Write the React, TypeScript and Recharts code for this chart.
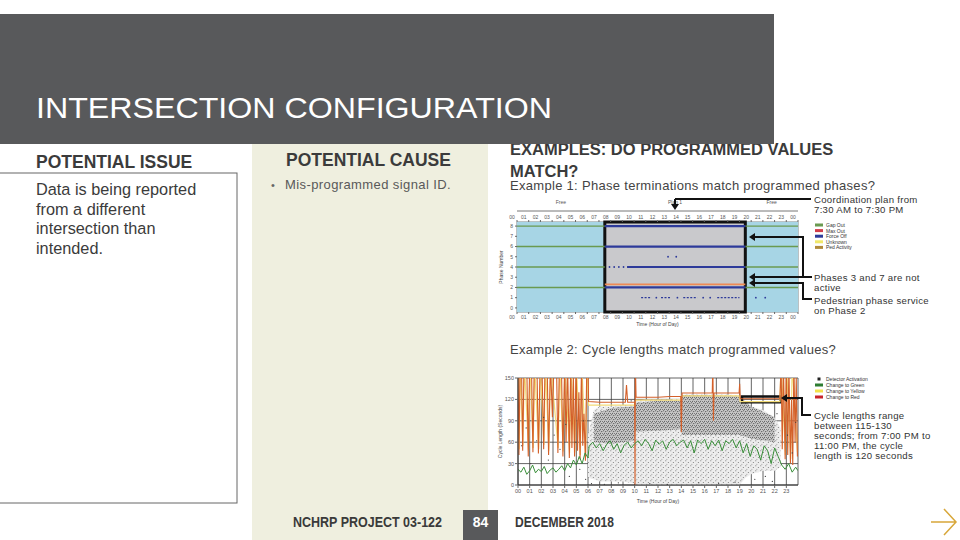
import React from "react";
import {
  ComposedChart,
  XAxis,
  YAxis,
  CartesianGrid,
  Line,
  Area,
  Scatter,
  ReferenceArea,
  Label,
} from "recharts";

// ---------- Example 1: phase terminations ----------
const hourTicks = [0, 1, 2, 3, 4, 5, 6, 7, 8, 9, 10, 11, 12, 13, 14, 15, 16, 17, 18, 19, 20, 21, 22, 23, 24];
const phaseTicks = [0, 1, 2, 3, 4, 5, 6, 7, 8];
const planNames = ["Free", "Plan 1", "Free"];
const planStarts = [0, 7.5, 19.5];
const planEnds = [7.5, 19.5, 24];

// [phase, from hour, to hour]
const gapOutRuns: [number, number, number][] = [
  [8, 0, 7.5], [8, 19.5, 24],
  [6, 0, 7.5], [6, 19.5, 24],
  [4, 0, 7.5], [4, 19.5, 24],
  [2, 0, 7.5], [2, 19.5, 24],
];
const forceOffRuns: [number, number, number][] = [
  [8, 7.5, 19.5],
  [6, 7.5, 19.5],
  [4, 9.4, 19.5],
  [2, 7.5, 19.5],
  [1, 10.6, 11.5],
  [1, 12.3, 13.1],
  [1, 14.2, 15.4],
  [1, 17.1, 19.0],
];
// [hour, phase]
const forceOffDots: [number, number][] = [
  [7.9, 4], [8.3, 4], [8.7, 4], [9.1, 4],
  [12.9, 5], [13.6, 5], [11.9, 1], [13.7, 1], [15.9, 1], [16.5, 1], [20.4, 1], [21.2, 1],
];
const pedRuns: [number, number, number][] = [[2.3, 7.5, 19.5]];
const terminationLegend = ["Gap Out", "Max Out", "Force Off", "Unknown", "Ped Activity"];

// ---------- Example 2: cycle lengths ----------
const cycleHourTicks = [0, 1, 2, 3, 4, 5, 6, 7, 8, 9, 10, 11, 12, 13, 14, 15, 16, 17, 18, 19, 20, 21, 22, 23];
const cycleTicks = [0, 30, 60, 90, 120, 150];

// [hour, seconds]
const changeToRed: [number, number][] = [
  [0.0, 170], [0.08, 42], [0.18, 170], [0.3, 170], [0.4, 48], [0.52, 170], [0.75, 170], [0.88, 40],
  [1.0, 170], [1.15, 170], [1.28, 46], [1.4, 170], [1.62, 170], [1.75, 44], [1.9, 170], [2.05, 170],
  [2.2, 50], [2.32, 170], [2.5, 170], [2.62, 42], [2.78, 170], [2.95, 95], [3.08, 170], [3.3, 170],
  [3.42, 45], [3.55, 170], [3.72, 170], [3.85, 40], [4.0, 170], [4.12, 60], [4.25, 170], [4.4, 38],
  [4.52, 170], [4.62, 52], [4.75, 150], [4.85, 40], [4.98, 170], [5.1, 48], [5.22, 130], [5.32, 36],
  [5.45, 170], [5.55, 55], [5.65, 100], [5.78, 34], [5.9, 170], [6.0, 170], [6.05, 117], [7.0, 116],
  [8.0, 116], [9.2, 116], [9.3, 140], [9.4, 116], [10.0, 116], [10.03, 0], [10.06, 170], [10.12, 123],
  [11.0, 123], [12.0, 123], [13.0, 124], [13.95, 124], [14.0, 74], [14.06, 129], [15.0, 129], [16.0, 129],
  [16.65, 129], [16.7, 170], [16.75, 90], [16.8, 129], [17.5, 129], [18.5, 129], [18.95, 129], [19.0, 142],
  [19.05, 121], [20.0, 121], [21.0, 121], [22.0, 121], [22.45, 121], [22.55, 170], [22.65, 50], [22.75, 170],
  [22.9, 36], [23.0, 170], [23.12, 42], [23.22, 170], [23.35, 30], [23.45, 120], [23.55, 28], [23.65, 170],
  [23.75, 60], [23.85, 150], [23.95, 40],
];
const changeToYellow: [number, number][] = [
  [0.0, 170], [0.1, 50], [0.2, 170], [0.42, 55], [0.55, 170], [0.9, 48], [1.02, 170], [1.3, 52],
  [1.42, 170], [1.77, 50], [1.92, 170], [2.22, 56], [2.35, 170], [2.64, 48], [2.8, 170], [3.44, 52],
  [3.58, 170], [3.87, 47], [4.02, 170], [4.42, 45], [4.55, 170], [4.87, 46], [5.0, 170], [5.34, 42],
  [5.47, 170], [5.8, 40], [5.92, 170], [6.05, 112], [10.0, 112], [10.1, 119], [13.95, 119], [14.06, 125],
  [18.95, 125], [19.05, 117], [22.45, 117], [22.55, 170], [22.92, 42], [23.02, 170], [23.37, 36], [23.5, 170],
  [23.95, 46],
];
const changeToGreen: [number, number][] = [
  [0.0, 22], [0.25, 18], [0.5, 25], [0.75, 15], [1.0, 20], [1.25, 28], [1.5, 17], [1.75, 22],
  [2.0, 19], [2.25, 26], [2.5, 16], [2.75, 21], [3.0, 24], [3.25, 18], [3.5, 22], [3.75, 27],
  [4.0, 20], [4.25, 30], [4.5, 24], [4.75, 35], [5.0, 28], [5.25, 40], [5.5, 30], [5.75, 45],
  [6.0, 38], [6.1, 55], [6.4, 60], [6.7, 52], [7.0, 58], [7.3, 48], [7.6, 57], [7.9, 62],
  [8.2, 50], [8.5, 58], [8.8, 45], [9.1, 56], [9.4, 60], [9.7, 52], [10.0, 58], [10.3, 62],
  [10.6, 55], [10.9, 64], [11.2, 58], [11.5, 48], [11.8, 63], [12.1, 57], [12.4, 62], [12.7, 50],
  [13.0, 60], [13.3, 64], [13.6, 55], [13.9, 60], [14.2, 63], [14.5, 52], [14.8, 62], [15.1, 45],
  [15.4, 63], [15.7, 58], [16.0, 64], [16.3, 50], [16.6, 62], [16.9, 55], [17.2, 63], [17.5, 48],
  [17.8, 62], [18.1, 58], [18.4, 64], [18.7, 52], [19.0, 62], [19.3, 45], [19.6, 58], [19.9, 40],
  [20.2, 55], [20.5, 50], [20.8, 35], [21.1, 55], [21.4, 48], [21.7, 30], [22.0, 52], [22.3, 40],
  [22.6, 28], [22.9, 22], [23.2, 30], [23.5, 18], [23.8, 25], [24.0, 20],
];
// detector activation cloud, outer and dense core
const detectorHours = [6.0, 6.5, 7, 8, 9, 10, 10.05, 11, 12, 13, 14, 14.05, 15, 16, 17, 18, 19, 19.5, 20, 21, 22, 22.5];
const detectorLow = [10, 8, 5, 5, 5, 2, 0, 0, 0, 0, 0, 0, 0, 0, 0, 0, 0, 10, 15, 20, 20, 25];
const detectorHigh = [70, 105, 110, 110, 112, 112, 118, 120, 120, 120, 122, 127, 127, 127, 127, 127, 125, 115, 110, 105, 95, 80];
const coreHours = [6.5, 8, 10, 10.05, 12, 14, 14.05, 16, 19, 20, 22];
const coreLow = [60, 58, 62, 75, 76, 78, 70, 70, 70, 65, 60];
const coreHigh = [100, 108, 110, 115, 118, 118, 126, 126, 124, 110, 95];
const detectorDots: [number, number][] = [
  [0.3, 55], [0.7, 80], [1.1, 30], [1.6, 62], [2.2, 95], [2.6, 35], [3.1, 70], [3.6, 50],
  [4.1, 85], [4.4, 12], [4.9, 60], [5.3, 22], [5.6, 90], [5.8, 8], [6.3, 2], [7.4, 1],
  [8.6, 3], [9.7, 118], [11.3, 2], [12.8, 1], [15.5, 3], [17.2, 2], [18.6, 4], [20.3, 8],
  [21.2, 12], [21.8, 5], [22.2, 100], [23.1, 70], [23.5, 45], [23.8, 88],
];
const cycleLegend = ["Detector Activation", "Change to Green", "Change to Yellow", "Change to Red"];

// ---------- styling ----------
const FONT = "'Liberation Sans', Arial, sans-serif";
const NARROW = "'Liberation Sans Narrow', 'Liberation Sans', Arial, sans-serif";
const DARK = "#58595b";
const TEXT = "#3b3b3b";
const TERM_COLORS = ["#6a9a50", "#d23c4a", "#2d3a9a", "#f0e86a", "#b08a3a"];
const PED = "#ee8a55";
const CYCLE_COLORS = ["#222", "#2e7d32", "#f3e24a", "#c8242b"];
const RED = "#d4602a";
const YELLOW = "#f3dc78";
const GREEN = "#3a8f3a";

const pad2 = (h: number) => String(h % 24).padStart(2, "0");
const tinyTick = { fontSize: 5, fill: "#555", fontFamily: FONT };

const runData = (r: [number, number, number]) => [
  { t: r[1], p: r[0] },
  { t: r[2], p: r[0] },
];

function PhaseChart() {
  const planMids = planStarts.map((s, i) => (s + planEnds[i]) / 2);
  // invisible anchor series so the two top axes get a domain and draw their ticks
  const anchor = planStarts.concat([24]).map((t) => ({ t, p: 8 }));
  return (
    <ComposedChart width={310} height={135} margin={{ top: 6, right: 7, bottom: 0, left: 0 }}>
      <ReferenceArea x1={planStarts[0]} x2={planEnds[0]} fill="#a7d5e5" fillOpacity={1} stroke="none" />
      <ReferenceArea x1={planStarts[1]} x2={planEnds[1]} fill="#c9c9cc" fillOpacity={1} stroke="none" />
      <ReferenceArea x1={planStarts[2]} x2={planEnds[2]} fill="#a7d5e5" fillOpacity={1} stroke="none" />
      <CartesianGrid stroke="#55656b" strokeWidth={0.8} />
      <Line xAxisId="hours" data={anchor} dataKey="p" stroke="none" dot={false} activeDot={false} isAnimationActive={false} />
      <Line xAxisId="plan" data={anchor} dataKey="p" stroke="none" dot={false} activeDot={false} isAnimationActive={false} />
      {gapOutRuns.map((r, i) => (
        <Line key={"g" + i} data={runData(r)} dataKey="p" stroke={TERM_COLORS[0]} strokeWidth={1.4}
          dot={false} activeDot={false} isAnimationActive={false} />
      ))}
      {forceOffRuns.map((r, i) => (
        <Line key={"f" + i} data={runData(r)} dataKey="p" stroke={TERM_COLORS[2]}
          strokeWidth={r[0] === 1 ? 1.2 : 2.2} strokeDasharray={r[0] === 1 ? "2 1.5" : undefined}
          dot={false} activeDot={false} isAnimationActive={false} />
      ))}
      {pedRuns.map((r, i) => (
        <Line key={"p" + i} data={runData(r)} dataKey="p" stroke={PED} strokeWidth={1.6}
          dot={false} activeDot={false} isAnimationActive={false} />
      ))}
      <Scatter data={forceOffDots.map(([t, p]) => ({ t, p }))} fill={TERM_COLORS[2]}
        shape={(pr: any) => <circle cx={pr.cx} cy={pr.cy} r={0.9} fill={TERM_COLORS[2]} />}
        isAnimationActive={false} />
      <ReferenceArea x1={planStarts[1]} x2={planEnds[1]} fill="none" stroke="#111" strokeWidth={3} />
      <XAxis type="number" dataKey="t" domain={[0, 24]} ticks={hourTicks} interval={0} tickFormatter={pad2}
        tick={{ ...tinyTick, dx: -5 }} tickSize={2} tickMargin={1} axisLine={false} height={18} allowDataOverflow>
        <Label value="Time (Hour of Day)" position="insideBottom" offset={4}
          style={{ fontSize: 5, fill: "#444", fontFamily: FONT }} />
      </XAxis>
      <XAxis xAxisId="hours" orientation="top" type="number" dataKey="t" domain={[0, 24]} ticks={hourTicks} interval={0}
        tickFormatter={pad2} tick={{ ...tinyTick, dx: -5 }} tickSize={2} tickMargin={1} axisLine={false}
        height={11} allowDataOverflow />
      <XAxis xAxisId="plan" orientation="top" type="number" dataKey="t" domain={[0, 24]} ticks={planMids} interval={0}
        tickFormatter={(v: number) => planNames[planMids.indexOf(v)] ?? ""} tick={tinyTick} tickLine={false}
        tickMargin={1} axisLine={{ stroke: "#777" }} height={10} allowDataOverflow />
      <YAxis type="number" dataKey="p" domain={[-0.4, 8.4]} ticks={phaseTicks} interval={0} width={22}
        tick={tinyTick} tickSize={2} axisLine={false} allowDataOverflow>
        <Label value="Phase Number" angle={-90} position="center" dx={-5}
          style={{ fontSize: 5, fill: "#444", fontFamily: FONT }} />
      </YAxis>
    </ComposedChart>
  );
}

function CycleChart() {
  const pts = (a: [number, number][]) => a.map(([t, s]) => ({ t, s }));
  const outer = detectorHours.map((t, i) => ({ t, band: [detectorLow[i], detectorHigh[i]] }));
  const core = coreHours.map((t, i) => ({ t, band: [coreLow[i], coreHigh[i]] }));
  return (
    <ComposedChart width={310} height={135} margin={{ top: 8, right: 7, bottom: 0, left: 0 }}>
      <Area data={outer} dataKey="band" type="linear" stroke="none" fill="url(#stippleLight)" fillOpacity={1}
        isAnimationActive={false} />
      <Area data={core} dataKey="band" type="linear" stroke="none" fill="url(#stippleDense)" fillOpacity={1}
        isAnimationActive={false} />
      <Scatter data={pts(detectorDots)} fill="#333"
        shape={(pr: any) => <circle cx={pr.cx} cy={pr.cy} r={0.6} fill="#333" />} isAnimationActive={false} />
      <CartesianGrid stroke="#3d3d3d" strokeWidth={0.8} />
      <Line data={pts(changeToYellow)} dataKey="s" type="linear" stroke={YELLOW} strokeWidth={1.2}
        dot={false} activeDot={false} isAnimationActive={false} />
      <Line data={pts(changeToRed)} dataKey="s" type="linear" stroke={RED} strokeWidth={1.1}
        dot={false} activeDot={false} isAnimationActive={false} />
      <Line data={pts(changeToGreen)} dataKey="s" type="linear" stroke={GREEN} strokeWidth={1}
        dot={false} activeDot={false} isAnimationActive={false} />
      <ReferenceArea x1={19.2} x2={22.5} y1={116} y2={124} fill="none" stroke="#111" strokeWidth={2.5} />
      <XAxis type="number" dataKey="t" domain={[0, 24]} ticks={cycleHourTicks} interval={0} tickFormatter={pad2}
        tick={{ ...tinyTick, fontSize: 5.5 }} tickSize={3} tickMargin={1} axisLine={{ stroke: "#333" }}
        height={20} allowDataOverflow>
        <Label value="Time (Hour of Day)" position="insideBottom" offset={2}
          style={{ fontSize: 5, fill: "#444", fontFamily: FONT }} />
      </XAxis>
      <YAxis type="number" dataKey="s" domain={[0, 150]} ticks={cycleTicks} interval={0} width={23}
        tick={{ ...tinyTick, fontSize: 5.5 }} tickSize={3} tickMargin={1} axisLine={{ stroke: "#333" }}
        allowDataOverflow>
        <Label value="Cycle Length (Seconds)" angle={-90} position="center" dx={-6}
          style={{ fontSize: 5, fill: "#444", fontFamily: FONT }} />
      </YAxis>
    </ComposedChart>
  );
}

function Arrow({ x, y, dir }: { x: number; y: number; dir: "left" | "down" }) {
  const pts = dir === "left"
    ? `${x},${y} ${x + 6},${y - 4} ${x + 6},${y + 4}`
    : `${x},${y} ${x - 4},${y - 6} ${x + 4},${y - 6}`;
  return <polygon points={pts} fill="#111" />;
}

export default function App() {
  const note = { fontSize: 9.6, fill: "#333", fontFamily: FONT, letterSpacing: 0.3 };
  return (
    <div style={{ position: "absolute", left: 0, top: 0, width: 960, height: 540, background: "#fff", overflow: "hidden" }}>
      <svg width="0" height="0" style={{ position: "absolute" }}>
        <defs>
          <pattern id="stippleLight" width="5" height="5" patternUnits="userSpaceOnUse">
            <rect width="5" height="5" fill="#ededed" />
            <circle cx="0.8" cy="0.8" r="0.5" fill="#666" />
            <circle cx="3.3" cy="2.4" r="0.5" fill="#666" />
            <circle cx="1.9" cy="4.2" r="0.45" fill="#666" />
          </pattern>
          <pattern id="stippleDense" width="4" height="4" patternUnits="userSpaceOnUse">
            <rect width="4" height="4" fill="#c8c8c8" />
            <circle cx="0.7" cy="0.7" r="0.55" fill="#333" />
            <circle cx="2.8" cy="1.6" r="0.55" fill="#333" />
            <circle cx="1.5" cy="3.2" r="0.5" fill="#333" />
            <circle cx="3.6" cy="3.6" r="0.45" fill="#333" />
          </pattern>
        </defs>
      </svg>

      {/* slide chrome */}
      <svg width={960} height={540} style={{ position: "absolute", left: 0, top: 0 }}>
        <rect x={252} y={144} width={236} height={396} fill="#efefdf" />
        <rect x={-1} y={173} width={238} height={330} fill="none" stroke="#666" strokeWidth={1} />
        <text x={510} y={155} fontSize={16.5} fontWeight="bold" fill={TEXT} fontFamily={FONT}>EXAMPLES: DO PROGRAMMED VALUES</text>
        <text x={510} y={177} fontSize={16.5} fontWeight="bold" fill={TEXT} fontFamily={FONT}>MATCH?</text>
        <rect x={0} y={14} width={774} height={130} fill={DARK} />
        <text x={36} y={118} fontSize={29} fill="#fff" fontFamily={FONT} textLength={516} lengthAdjust="spacingAndGlyphs">
          INTERSECTION CONFIGURATION
        </text>
        <text x={36} y={168} fontSize={17.5} fontWeight="bold" fill={TEXT} fontFamily={FONT}>POTENTIAL ISSUE</text>
        <text x={286} y={166} fontSize={17.5} fontWeight="bold" fill={TEXT} fontFamily={FONT}>POTENTIAL CAUSE</text>
        {["Data is being reported", "from a different", "intersection than", "intended."].map((s, i) => (
          <text key={s} x={36} y={195 + i * 19.6} fontSize={16.3} fill={TEXT} fontFamily={FONT}>{s}</text>
        ))}
        <text x={271} y={189} fontSize={11} fill="#666" fontFamily={FONT}>•</text>
        <text x={285} y={189} fontSize={13} fill="#595959" fontFamily={FONT} letterSpacing={0.4}>Mis-programmed signal ID.</text>
        <text x={510} y={189.5} fontSize={13} fill="#444" fontFamily={FONT} letterSpacing={0.3}>
          Example 1: Phase terminations match programmed phases?
        </text>
        <text x={510} y={354} fontSize={13} fill="#444" fontFamily={FONT} letterSpacing={0.3}>
          Example 2: Cycle lengths match programmed values?
        </text>
        {/* footer */}
        <text x={293} y={527} fontSize={14} fontWeight="bold" fill="#3a3a3a" fontFamily={NARROW}
          textLength={149} lengthAdjust="spacingAndGlyphs">NCHRP PROJECT 03-122</text>
        <rect x={463} y={510} width={35} height={30} fill={DARK} />
        <text x={480.5} y={527} fontSize={14} fontWeight="bold" fill="#fff" fontFamily={NARROW} textAnchor="middle">84</text>
        <text x={515} y={527} fontSize={14} fontWeight="bold" fill="#3a3a3a" fontFamily={NARROW}
          textLength={99} lengthAdjust="spacingAndGlyphs">DECEMBER 2018</text>
        <path d="M931 522 H956 M944 509 L956 522 L944 535" stroke="#d8a73a" strokeWidth={1.5} fill="none" />
      </svg>

      <div style={{ position: "absolute", left: 495, top: 195 }}>
        <PhaseChart />
      </div>
      <div style={{ position: "absolute", left: 495, top: 370 }}>
        <CycleChart />
      </div>

      {/* callouts and legends */}
      <svg width={960} height={540} style={{ position: "absolute", left: 0, top: 0, pointerEvents: "none" }}>
        <path d="M675 199 H811 M675 199 V204" stroke="#111" strokeWidth={2} fill="none" />
        <Arrow x={675} y={210} dir="down" />
        <path d="M755 237 H803 V277 H812 M755 277 H803" stroke="#111" strokeWidth={2} fill="none" />
        <Arrow x={749} y={237} dir="left" />
        <Arrow x={749} y={277} dir="left" />
        <path d="M755 283 H803 V299 H812" stroke="#111" strokeWidth={2} fill="none" />
        <Arrow x={749} y={283} dir="left" />
        <path d="M787 398 H802 V415 H811" stroke="#111" strokeWidth={2} fill="none" />
        <Arrow x={781} y={398} dir="left" />

        <text x={814} y={203} {...note}>Coordination plan from</text>
        <text x={814} y={213} {...note}>7:30 AM to 7:30 PM</text>
        <text x={814} y={281} {...note}>Phases 3 and 7 are not</text>
        <text x={814} y={291} {...note}>active</text>
        <text x={814} y={303.5} {...note}>Pedestrian phase service</text>
        <text x={814} y={313.5} {...note}>on Phase 2</text>
        {["Cycle lengths range", "between 115-130", "seconds; from 7:00 PM to", "11:00 PM, the cycle", "length is 120 seconds"].map((s, i) => (
          <text key={s} x={814} y={419 + i * 10.1} {...note}>{s}</text>
        ))}

        {terminationLegend.map((s, i) => (
          <g key={s}>
            <rect x={815} y={223.5 + i * 5.6} width={8} height={3} fill={TERM_COLORS[i]} />
            <text x={826} y={227 + i * 5.6} fontSize={5} fill="#333" fontFamily={FONT}>{s}</text>
          </g>
        ))}
        {cycleLegend.map((s, i) => (
          <g key={s}>
            {i === 0
              ? <rect x={817.5} y={377.5} width={3} height={3} fill={CYCLE_COLORS[0]} />
              : <rect x={815} y={377.5 + i * 6} width={8} height={3} fill={CYCLE_COLORS[i]} />}
            <text x={826} y={381 + i * 6} fontSize={5} fill="#333" fontFamily={FONT}>{s}</text>
          </g>
        ))}
      </svg>
    </div>
  );
}
